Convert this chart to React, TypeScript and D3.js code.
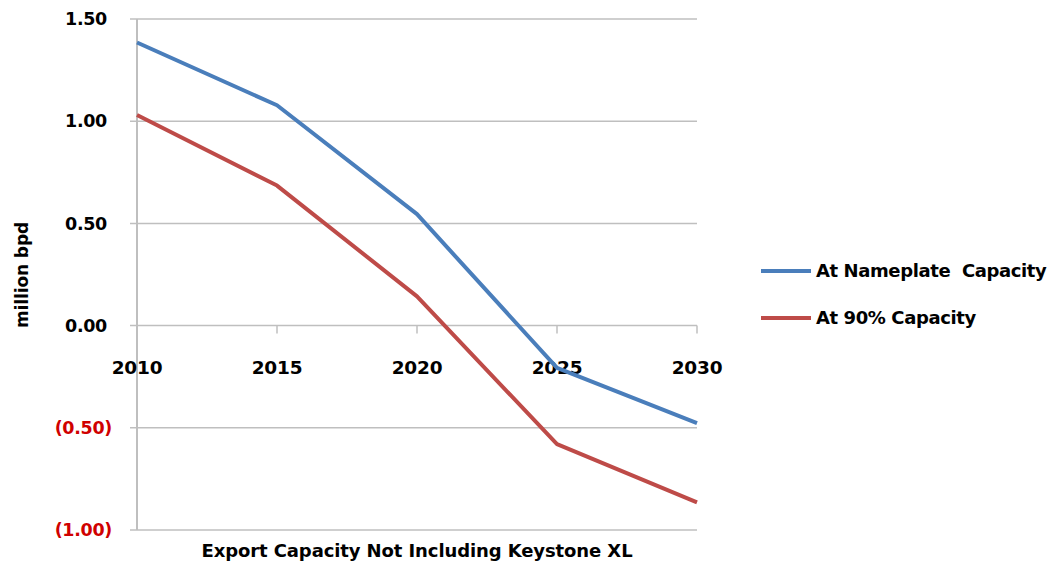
import React from "react";
import * as d3 from "d3";

const years = [2010, 2015, 2020, 2025, 2030];
const nameplate = [1.385, 1.078, 0.545, -0.207, -0.477];
const ninety = [1.03, 0.685, 0.143, -0.58, -0.865];
const yTicks = [1.5, 1.0, 0.5, 0.0, -0.5, -1.0];
const seriesNames = ["At Nameplate  Capacity", "At 90% Capacity"];
const seriesColors = ["#4a7ebb", "#be4b48"];

const W = 1052;
const H = 563;
const FONT = "'DejaVu Sans', Verdana, sans-serif";

export default function App() {
  const x = d3.scalePoint<number>().domain(years).range([137, 697]);
  const y = d3.scaleLinear().domain([-1, 1.5]).range([530, 19]);
  const line = d3
    .line<number>()
    .x((_, i) => x(years[i]) as number)
    .y((d) => y(d));
  const series = [nameplate, ninety];
  const fmt = (v: number) => (v < 0 ? `(${Math.abs(v).toFixed(2)})` : v.toFixed(2));

  return (
    <div style={{ position: "absolute", left: 0, top: 0 }}>
      <svg width={W} height={H} style={{ display: "block", background: "#fff" }}>
        {yTicks.map((t) => (
          <line key={"g" + t} x1={130} x2={697} y1={y(t)} y2={y(t)} stroke="#bfbfbf" strokeWidth={1.5} />
        ))}
        <line x1={137} x2={137} y1={y(1.5)} y2={y(-1)} stroke="#bfbfbf" strokeWidth={2} />
        {years.map((yr) => (
          <line key={"t" + yr} x1={x(yr)} x2={x(yr)} y1={y(0)} y2={y(0) + 8} stroke="#bfbfbf" strokeWidth={1.5} />
        ))}
        {yTicks.map((t) => (
          <text
            key={"l" + t}
            x={t < 0 ? 112 : 107}
            y={y(t)}
            dy="0.35em"
            textAnchor="end"
            fontFamily={FONT}
            fontWeight="bold"
            fontSize={17.5}
            letterSpacing={-0.3}
            fill={t < 0 ? "#d00000" : "#000"}
          >
            {fmt(t)}
          </text>
        ))}
        {years.map((yr) => (
          <text
            key={"x" + yr}
            x={x(yr)}
            y={368}
            dy="0.35em"
            textAnchor="middle"
            fontFamily={FONT}
            fontWeight="bold"
            fontSize={18.5}
            letterSpacing={-0.2}
            fill="#000"
          >
            {yr}
          </text>
        ))}
        {series.map((s, i) => (
          <path key={"s" + i} d={line(s) || ""} fill="none" stroke={seriesColors[i]} strokeWidth={4} strokeLinejoin="round" />
        ))}
        <text
          transform={`translate(22,275) rotate(-90)`}
          textAnchor="middle"
          dy="0.35em"
          fontFamily={FONT}
          fontWeight="bold"
          fontSize={17}
          letterSpacing={-0.1}
        >
          million bpd
        </text>
        <text
          x={417}
          y={551}
          dy="0.35em"
          textAnchor="middle"
          fontFamily={FONT}
          fontWeight="bold"
          fontSize={18}
          letterSpacing={-0.1}
        >
          Export Capacity Not Including Keystone XL
        </text>
        {seriesNames.map((n, i) => (
          <g key={"lg" + i} transform={`translate(0,${271 + i * 47})`}>
            <line x1={761} x2={811} y1={0} y2={0} stroke={seriesColors[i]} strokeWidth={4} />
            <text
              x={816}
              y={0}
              dy="0.35em"
              fontFamily={FONT}
              fontWeight="bold"
              fontSize={18}
              letterSpacing={-0.4}
              style={{ whiteSpace: "pre" }}
            >
              {n}
            </text>
          </g>
        ))}
      </svg>
    </div>
  );
}
